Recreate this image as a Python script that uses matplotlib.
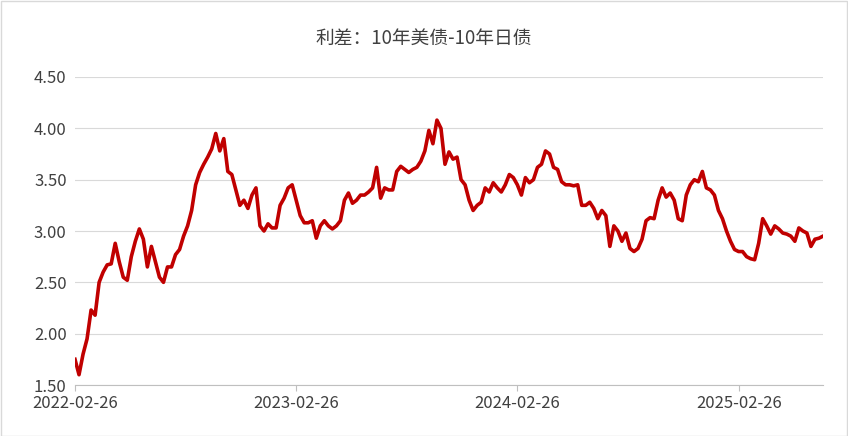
import matplotlib
matplotlib.use("Agg")
import matplotlib.pyplot as plt
import pandas as pd

plt.rcParams['font.family'] = ['Noto Sans CJK SC', 'DejaVu Sans']

title = "利差：10年美债-10年日债"
start_date = "2022-02-26"
end_date = "2025-07-14"
tick_labels = ["2022-02-26", "2023-02-26", "2024-02-26", "2025-02-26"]
values = [1.75,1.6,1.8,1.95,2.23,2.18,2.5,2.6,2.67,2.68,2.88,2.7,2.55,2.52,2.75,2.9,3.02,2.92,2.65,2.85,
2.7,2.55,2.5,2.65,2.65,2.77,2.82,2.95,3.05,3.2,3.45,3.57,3.65,3.72,3.8,3.95,3.78,3.9,3.58,3.55,
3.4,3.25,3.3,3.22,3.35,3.42,3.05,3.0,3.07,3.03,3.03,3.25,3.32,3.42,3.45,3.3,3.15,3.08,3.08,3.1,
2.93,3.05,3.1,3.05,3.02,3.05,3.1,3.3,3.37,3.27,3.3,3.35,3.35,3.38,3.42,3.62,3.32,3.42,3.4,3.4,
3.58,3.63,3.6,3.57,3.6,3.62,3.68,3.78,3.98,3.85,4.08,4.0,3.65,3.77,3.7,3.72,3.5,3.45,3.3,3.2,
3.25,3.28,3.42,3.38,3.47,3.42,3.38,3.45,3.55,3.52,3.45,3.35,3.52,3.47,3.5,3.62,3.65,3.78,3.75,3.62,
3.6,3.48,3.45,3.45,3.44,3.45,3.25,3.25,3.28,3.22,3.12,3.2,3.15,2.85,3.05,3.0,2.9,2.98,2.83,2.8,
2.83,2.92,3.1,3.13,3.12,3.3,3.42,3.33,3.37,3.3,3.12,3.1,3.35,3.45,3.5,3.48,3.58,3.42,3.4,3.35,
3.2,3.12,3.0,2.9,2.82,2.8,2.8,2.75,2.73,2.72,2.88,3.12,3.05,2.97,3.05,3.02,2.98,2.97,2.95,2.9,
3.03,3.0,2.98,2.85,2.92,2.93,2.95]

dates = pd.date_range(start_date, end_date, periods=len(values))

fig = plt.figure(figsize=(8.48, 4.36), dpi=100)
fig.patches.append(plt.Rectangle((0.001, 0.001), 0.998, 0.997, transform=fig.transFigure,
                                 fill=False, edgecolor='#d9d9d9', linewidth=1))
ax = fig.add_axes([75/848, 1-385/436, (823-75)/848, (385-77)/436])
ax.plot(dates, values, color='#c00000', linewidth=2.6)
yt = [1.5, 2.0, 2.5, 3.0, 3.5, 4.0, 4.5]
ax.set_ylim(1.5, 4.5)
ax.set_yticks(yt)
ax.set_yticklabels([f"{v:.2f}" for v in yt])
ax.set_xlim(dates[0], dates[-1])
ax.set_xticks(pd.to_datetime(tick_labels))
ax.set_xticklabels(tick_labels)
ax.grid(axis='y', color='#d9d9d9', linewidth=0.8)
ax.set_axisbelow(True)
for s in ['top', 'right', 'left']:
    ax.spines[s].set_visible(False)
ax.spines['bottom'].set_color('#bfbfbf')
ax.tick_params(axis='y', length=0, labelsize=12, colors='#404040', pad=6)
ax.tick_params(axis='x', length=4, color='#bfbfbf', labelsize=12, labelcolor='#404040', pad=3)
fig.text(0.5, 1-38/436, title, ha='center', va='center', fontsize=13.5, color='#404040')
fig.savefig("out.png", dpi=100)
